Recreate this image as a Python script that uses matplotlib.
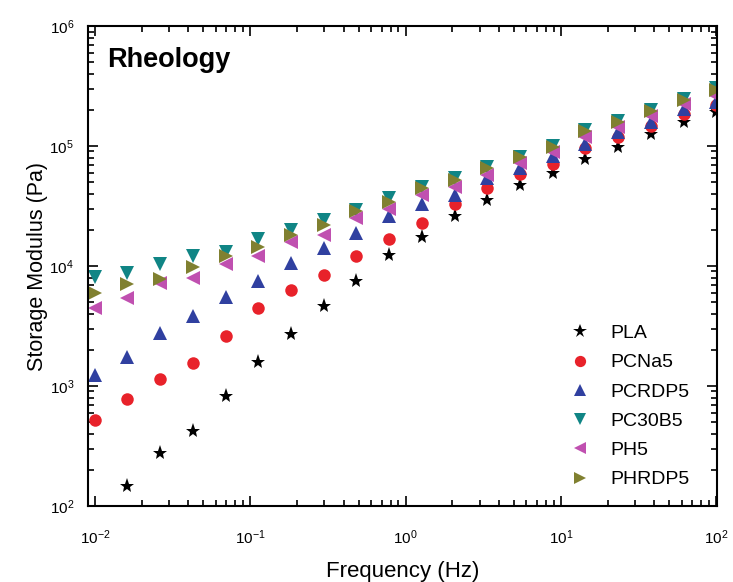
import numpy as np
import matplotlib
matplotlib.use("Agg")
import matplotlib.pyplot as plt
from matplotlib.ticker import LogLocator, NullFormatter

# Frequency points (Hz)
freq = [0.01, 0.0162, 0.0264, 0.0428, 0.0695, 0.113, 0.183, 0.298, 0.483, 0.785,
        1.27, 2.07, 3.36, 5.46, 8.86, 14.4, 23.4, 37.9, 61.6, 100]

# Storage modulus (Pa)
pla = [np.nan, 147, 278, 422, 830, 1600, 2730, 4620, 7450, 12300,
       17500, 26100, 35500, 47300, 59200, 77900, 98700, 125000, 159600, 193000]
pcna5 = [521, 774, 1143, 1546, 2610, 4440, 6350, 8350, 12050, 16900,
         22960, 32850, 44400, 58400, 70800, 95700, 118000, 146800, 184800, 219600]
pcrdp5 = [1235, 1755, 2780, 3850, 5490, 7550, 10520, 14170, 18720, 26100,
          32850, 39000, 53800, 65100, 82500, 103900, 131600, 159600, 202200, 233900]
pc30b5 = [8150, 8790, 10330, 12120, 13150, 16900, 19950, 24150, 29290, 36630,
          45800, 53800, 66400, 81500, 100000, 135900, 161600, 199500, 245000, 302700]
ph5 = [4490, 5440, 7180, 8000, 10330, 12180, 15800, 18130, 24960, 29660,
       39000, 45800, 57300, 71800, 89700, 118000, 143200, 177800, 223900, 261000]
phrdp5 = [5990, 7030, 7740, 9860, 12120, 14310, 18300, 21960, 28800, 34330,
          45000, 52100, 65100, 80500, 99000, 134000, 160000, 197000, 242000, 292900]

labels = ["PLA", "PCNa5", "PCRDP5", "PC30B5", "PH5", "PHRDP5"]

plt.rcParams['font.family'] = ['Liberation Sans', 'DejaVu Sans']

fig = plt.figure(figsize=(7.33, 5.82), dpi=100)
ax = fig.add_axes([0.120, 0.1306, 0.858, 0.8247])

# marker styles per series
series = [pla, pcna5, pcrdp5, pc30b5, ph5, phrdp5]
markers = ["*", "o", "^", "v", "<", ">"]
colors = ["black", "#e8222a", "#3040a0", "#108585", "#c050b0", "#808030"]
sizes = [11, 9, 10, 10, 10, 10]

for vals, m, c, s, lab in zip(series, markers, colors, sizes, labels):
    ax.plot(freq, vals, linestyle="none", marker=m, color=c, markersize=s,
            markeredgewidth=0, label=lab)

ax.set_xscale("log")
ax.set_yscale("log")
ax.set_xlim(0.00902, 101)
ax.set_ylim(1e2, 1e6)

ax.xaxis.set_minor_locator(LogLocator(base=10, subs=np.arange(2, 10)))
ax.yaxis.set_minor_locator(LogLocator(base=10, subs=np.arange(2, 10)))
ax.xaxis.set_minor_formatter(NullFormatter())
ax.yaxis.set_minor_formatter(NullFormatter())

ax.tick_params(which="both", direction="in", top=True, right=True, width=1.2)
ax.tick_params(which="major", length=7, labelsize=11, colors="black")
ax.tick_params(axis="x", which="major", pad=16)
ax.tick_params(axis="y", which="major", pad=10)
ax.tick_params(which="minor", length=4)
for sp in ax.spines.values():
    sp.set_linewidth(1.5)

ax.set_xlabel("Frequency (Hz)", fontsize=16, labelpad=10)
ax.set_ylabel("Storage Modulus (Pa)", fontsize=15.5, labelpad=1)

ax.text(0.03, 0.93, "Rheology", transform=ax.transAxes, fontsize=19.5,
        fontweight="bold", va="center", ha="left")

ax.legend(loc="lower right", bbox_to_anchor=(0.985, 0.0), frameon=False,
          fontsize=14, handletextpad=0.6, labelspacing=0.6, markerscale=0.9,
          borderaxespad=0.5)

fig.savefig("out.png", dpi=100)
